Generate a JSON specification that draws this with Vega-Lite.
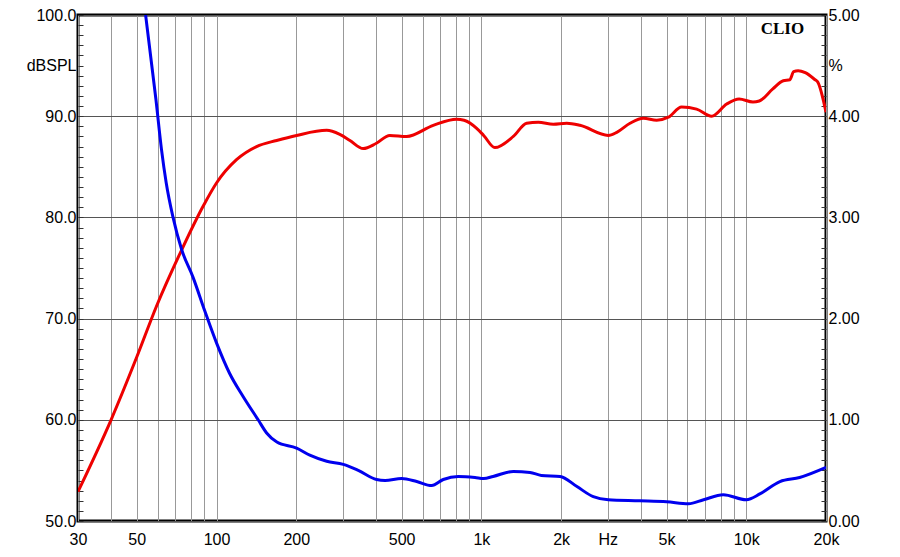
{
  "$schema": "https://vega.github.io/schema/vega-lite/v6.json",
  "width": 748,
  "height": 506,
  "autosize": {"type": "none"},
  "padding": {"left": 78, "top": 15, "right": 74, "bottom": 36},
  "background": "white",
  "config": {
    "view": {"stroke": "black", "strokeWidth": 3},
    "axis": {"labelFont": "Liberation Sans", "labelFontSize": 16, "labelColor": "black", "titleFont": "Liberation Sans"}
  },
  "datasets": {
    "spl": [
      {"f": 30, "db": 52.9}, {"f": 40, "db": 60.0}, {"f": 50, "db": 66.2}, {"f": 59.3, "db": 71.2},
      {"f": 73.9, "db": 76.8}, {"f": 89, "db": 81.1}, {"f": 100, "db": 83.4}, {"f": 119, "db": 85.7},
      {"f": 141.7, "db": 87.0}, {"f": 168.7, "db": 87.6}, {"f": 200.6, "db": 88.1}, {"f": 260.7, "db": 88.6},
      {"f": 292, "db": 88.2}, {"f": 319, "db": 87.6}, {"f": 358, "db": 86.8}, {"f": 400, "db": 87.3},
      {"f": 451, "db": 88.1}, {"f": 522, "db": 88.0}, {"f": 658, "db": 89.1}, {"f": 806, "db": 89.7},
      {"f": 860, "db": 89.6}, {"f": 960, "db": 88.8}, {"f": 1020, "db": 88.1}, {"f": 1124, "db": 86.9},
      {"f": 1320, "db": 88.0}, {"f": 1482, "db": 89.3}, {"f": 1640, "db": 89.4}, {"f": 1869, "db": 89.2},
      {"f": 2100, "db": 89.3}, {"f": 2355, "db": 89.1}, {"f": 3013, "db": 88.1}, {"f": 3244, "db": 88.4},
      {"f": 3641, "db": 89.3}, {"f": 4089, "db": 89.8}, {"f": 4590, "db": 89.6}, {"f": 5080, "db": 89.9},
      {"f": 5700, "db": 90.9}, {"f": 6493, "db": 90.7}, {"f": 7399, "db": 90.0}, {"f": 8432, "db": 91.2},
      {"f": 9400, "db": 91.7}, {"f": 10600, "db": 91.4}, {"f": 11200, "db": 91.5}, {"f": 12600, "db": 92.7},
      {"f": 13800, "db": 93.5}, {"f": 14600, "db": 93.6}, {"f": 15100, "db": 94.4}, {"f": 15700, "db": 94.5},
      {"f": 16700, "db": 94.3}, {"f": 18200, "db": 93.6}, {"f": 18600, "db": 93.4}, {"f": 20000, "db": 90.4}
    ],
    "thd": [
      {"f": 54, "pct": 5.0}, {"f": 59.1, "pct": 4.16}, {"f": 62, "pct": 3.67}, {"f": 64.6, "pct": 3.34},
      {"f": 68.4, "pct": 3.01}, {"f": 73.9, "pct": 2.68}, {"f": 81.5, "pct": 2.41}, {"f": 90.2, "pct": 2.08},
      {"f": 100, "pct": 1.76}, {"f": 112, "pct": 1.46}, {"f": 126, "pct": 1.23}, {"f": 143.6, "pct": 1.0},
      {"f": 154.6, "pct": 0.87}, {"f": 169, "pct": 0.78}, {"f": 200.6, "pct": 0.72}, {"f": 225, "pct": 0.65},
      {"f": 260.7, "pct": 0.59}, {"f": 301, "pct": 0.56}, {"f": 343, "pct": 0.5},
      {"f": 402, "pct": 0.41}, {"f": 433, "pct": 0.4}, {"f": 500, "pct": 0.42},
      {"f": 570, "pct": 0.39}, {"f": 649, "pct": 0.35}, {"f": 718, "pct": 0.41}, {"f": 818, "pct": 0.44},
      {"f": 946, "pct": 0.43}, {"f": 1020, "pct": 0.42}, {"f": 1107, "pct": 0.44}, {"f": 1320, "pct": 0.49},
      {"f": 1527, "pct": 0.48}, {"f": 1684, "pct": 0.45}, {"f": 1981, "pct": 0.44}, {"f": 2295, "pct": 0.34},
      {"f": 2645, "pct": 0.24}, {"f": 3013, "pct": 0.21}, {"f": 3962, "pct": 0.2}, {"f": 5005, "pct": 0.19},
      {"f": 6050, "pct": 0.17}, {"f": 6899, "pct": 0.21}, {"f": 8190, "pct": 0.26}, {"f": 10000, "pct": 0.21},
      {"f": 11300, "pct": 0.27}, {"f": 13400, "pct": 0.39}, {"f": 15900, "pct": 0.43}, {"f": 20000, "pct": 0.53}
    ],
    "label": [{"f": 13700, "db": 98.6, "t": "CLIO"}]
  },
  "layer": [
    {
      "data": {"name": "spl"},
      "mark": {"type": "line", "color": "#ee0000", "strokeWidth": 3, "interpolate": "monotone", "clip": true},
      "encoding": {
        "x": {
          "field": "f", "type": "quantitative",
          "scale": {"type": "log", "domain": [30, 20000], "nice": false},
          "axis": {
            "title": null, "ticks": false, "domain": false, "labelPadding": 10,
            "values": [30,40,50,60,70,80,90,100,200,300,400,500,600,700,800,900,1000,2000,3000,4000,5000,6000,7000,8000,9000,10000,20000],
            "labelExpr": "datum.value==1000?'1k':datum.value==2000?'2k':datum.value==3000?'Hz':datum.value==5000?'5k':datum.value==10000?'10k':datum.value==20000?'20k':(indexof([30,50,100,200,500],datum.value)>=0?''+datum.value:'')",
            "labelOverlap": false, "labelFlush": false,
            "gridColor": "#999999", "gridWidth": 1
          }
        },
        "y": {
          "field": "db", "type": "quantitative",
          "scale": {"domain": [50, 100], "nice": false, "zero": false},
          "axis": {
            "title": null, "orient": "left", "domain": false,
            "values": [50,51,52,53,54,55,56,57,58,59,60,61,62,63,64,65,66,67,68,69,70,71,72,73,74,75,76,77,78,79,80,81,82,83,84,85,86,87,88,89,90,91,92,93,94,95,96,97,98,99,100],
            "labelExpr": "datum.value%10==0?format(datum.value,'.1f'):(datum.value==95?'dBSPL':'')",
            "labelOverlap": false, "labelFlush": false,
            "tickSize": -5, "tickColor": "#333333", "tickWidth": 1, "labelPadding": 7,
            "gridColor": "#555555", "gridWidth": 1,
            "gridOpacity": {"condition": {"test": "datum.value%10==0", "value": 1}, "value": 0}
          }
        }
      }
    },
    {
      "data": {"name": "thd"},
      "mark": {"type": "line", "color": "#0000ee", "strokeWidth": 3, "interpolate": "monotone", "clip": true},
      "encoding": {
        "x": {"field": "f", "type": "quantitative", "scale": {"type": "log", "domain": [30, 20000], "nice": false}},
        "y": {
          "field": "pct", "type": "quantitative",
          "scale": {"domain": [0, 5], "nice": false},
          "axis": {
            "title": null, "orient": "right", "domain": false, "grid": false,
            "values": [0,0.1,0.2,0.3,0.4,0.5,0.6,0.7,0.8,0.9,1,1.1,1.2,1.3,1.4,1.5,1.6,1.7,1.8,1.9,2,2.1,2.2,2.3,2.4,2.5,2.6,2.7,2.8,2.9,3,3.1,3.2,3.3,3.4,3.5,3.6,3.7,3.8,3.9,4,4.1,4.2,4.3,4.4,4.5,4.6,4.7,4.8,4.9,5],
            "labelExpr": "abs(datum.value-4.5)<0.001?'%':(abs(datum.value-round(datum.value))<0.001?format(datum.value,'.2f'):'')",
            "labelOverlap": false, "labelFlush": false,
            "tickSize": -5, "tickColor": "#333333", "tickWidth": 1, "labelPadding": 7
          }
        }
      }
    },
    {
      "data": {"name": "label"},
      "mark": {"type": "text", "font": "Liberation Serif", "fontWeight": "bold", "fontSize": 17, "color": "black"},
      "encoding": {
        "x": {"field": "f", "type": "quantitative", "scale": {"type": "log", "domain": [30, 20000], "nice": false}},
        "y": {"field": "db", "type": "quantitative", "scale": {"domain": [50, 100], "nice": false, "zero": false}, "axis": null},
        "text": {"field": "t"}
      }
    }
  ],
  "resolve": {"scale": {"y": "independent"}}
}
